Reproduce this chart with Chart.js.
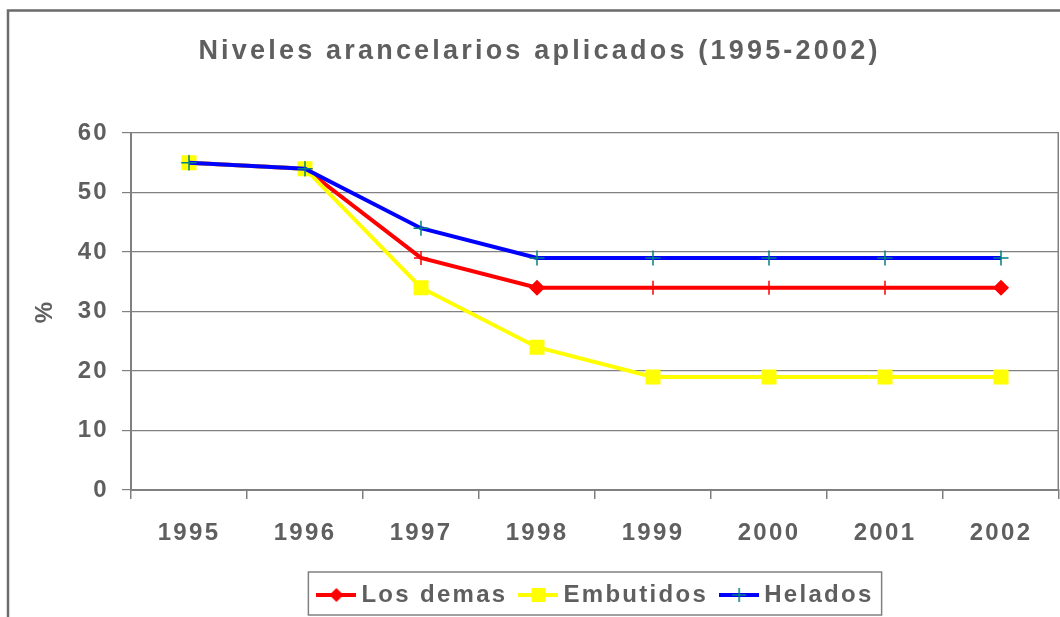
<!DOCTYPE html>
<html>
<head>
<meta charset="utf-8">
<script src="https://cdn.jsdelivr.net/npm/chart.js@4/dist/chart.umd.min.js"></script>
<style>
html,body{margin:0;padding:0;background:#fff;}
#wrap{width:1060px;height:617px;}
</style>
</head>
<body>
<div id="wrap"><canvas id="c" width="1060" height="617"></canvas></div>
<script>
const categories = ['1995','1996','1997','1998','1999','2000','2001','2002'];
const losDemas   = [55, 54, 39, 34, 34, 34, 34, 34];
const embutidos  = [55, 54, 34, 24, 19, 19, 19, 19];
const helados    = [55, 54, 44, 39, 39, 39, 39, 39];
const yTicks     = [0, 10, 20, 30, 40, 50, 60];
const seriesNames = ['Los demas', 'Embutidos', 'Helados'];
const chartTitle = 'Niveles arancelarios aplicados (1995-2002)';

const TEXT = '#5f5f5f';
const AXIS = '#808080';
const FONT = "'Liberation Sans', Arial, sans-serif";
const SPACING = '2.3px';

function legendImg(kind){
  const cv = document.createElement('canvas');
  cv.width = 40; cv.height = 18;
  const c = cv.getContext('2d');
  const my = 9, mx = 20;
  c.lineWidth = 4;
  c.strokeStyle = kind === 0 ? '#ff0000' : kind === 1 ? '#ffff00' : '#0000ff';
  c.beginPath(); c.moveTo(0,my); c.lineTo(40,my); c.stroke();
  if (kind === 0){
    c.fillStyle = '#ff0000';
    c.beginPath(); c.moveTo(mx-7,my); c.lineTo(mx,my-7); c.lineTo(mx+7,my); c.lineTo(mx,my+7); c.closePath(); c.fill();
  } else if (kind === 1){
    c.fillStyle = '#ffff00';
    c.fillRect(mx-7, my-7, 14, 14);
  } else {
    c.strokeStyle = '#008080'; c.lineWidth = 1.5;
    c.beginPath(); c.moveTo(mx-7,my); c.lineTo(mx+7,my); c.moveTo(mx,my-7); c.lineTo(mx,my+7); c.stroke();
  }
  return cv;
}
const legendImgs = [legendImg(0), legendImg(1), legendImg(2)];

const decor = {
  id: 'decor',
  beforeLayout(chart){ chart.ctx.letterSpacing = SPACING; },
  afterLayout(chart){
    chart.legend.left += 69;
    chart.legend.right += 69;
    const tb = chart.titleBlock;
    if (tb && !tb._patched){
      const orig = tb.draw;
      tb.draw = function(){
        const ctx = this.ctx;
        ctx.save();
        ctx.letterSpacing = '3.2px';
        ctx.translate(10, 0);
        orig.call(this);
        ctx.restore();
      };
      tb._patched = true;
    }
  },
  beforeDraw(chart){
    const ctx = chart.ctx;
    ctx.letterSpacing = SPACING;
    ctx.save();
    ctx.strokeStyle = '#6b6b6b';
    ctx.lineWidth = 2.5;
    ctx.strokeRect(8, 10.5, 1100, 700);
    ctx.restore();
  },
  beforeDatasetsDraw(chart){
    const {ctx, chartArea} = chart;
    ctx.save();
    ctx.strokeStyle = AXIS;
    ctx.lineWidth = 1.5;
    ctx.beginPath();
    ctx.moveTo(chartArea.right - 0.75, chartArea.top);
    ctx.lineTo(chartArea.right - 0.75, chartArea.bottom);
    ctx.stroke();
    ctx.restore();
  },
  afterDraw(chart){
    const lg = chart.legend;
    const hb = lg.legendHitBoxes;
    if (!hb || !hb.length) return;
    const first = hb[0], last = hb[hb.length-1];
    const ctx = chart.ctx;
    ctx.save();
    ctx.strokeStyle = AXIS;
    ctx.lineWidth = 1.5;
    const l = first.left - 15, r = last.left + last.width + 8;
    ctx.strokeRect(l, lg.top + 7, r - l, lg.bottom - lg.top - 9);
    ctx.restore();
  }
};

new Chart(document.getElementById('c'), {
  type: 'line',
  data: {
    labels: categories,
    datasets: [
      {
        label: seriesNames[0], data: losDemas, order: 2,
        borderColor: '#ff0000', backgroundColor: '#ff0000', borderWidth: 4,
        pointStyle: ['rectRot','rectRot','cross','rectRot','cross','cross','cross','rectRot'],
        pointRadius: 7, pointBorderColor: '#ff0000', pointBackgroundColor: '#ff0000', pointBorderWidth: 1.5,
        tension: 0
      },
      {
        label: seriesNames[1], data: embutidos, order: 1,
        borderColor: '#ffff00', backgroundColor: '#ffff00', borderWidth: 4,
        pointStyle: 'rect', pointRadius: 10.6, pointBorderWidth: 0,
        pointBackgroundColor: '#ffff00', tension: 0
      },
      {
        label: seriesNames[2], data: helados, order: 0,
        borderColor: '#0000ff', backgroundColor: '#0000ff', borderWidth: 4,
        pointStyle: 'cross', pointRadius: 7.5, pointBorderColor: '#008080', pointBorderWidth: 1.5,
        tension: 0
      }
    ]
  },
  options: {
    responsive: false,
    animation: false,
    devicePixelRatio: 1,
    layout: { autoPadding: false, padding: { left: 0, right: 1, top: 0, bottom: 0 } },
    plugins: {
      tooltip: { enabled: false },
      title: {
        display: true, text: chartTitle, color: TEXT,
        font: { family: FONT, size: 27, weight: 'bold' },
        padding: { top: 35, bottom: 65.6 }
      },
      legend: {
        display: true, position: 'bottom',
        labels: {
          color: TEXT,
          font: { family: FONT, size: 24, weight: 'bold' },
          usePointStyle: true, pointStyleWidth: 26, boxHeight: 18,
          padding: 18,
          sort: (a, b) => a.datasetIndex - b.datasetIndex,
          generateLabels: (chart) => Chart.defaults.plugins.legend.labels.generateLabels(chart)
            .map(l => Object.assign(l, { pointStyle: legendImgs[l.datasetIndex] }))
        }
      }
    },
    scales: {
      x: {
        type: 'category', offset: true,
        grid: { offset: true, drawOnChartArea: false, drawTicks: true, tickLength: 9, color: AXIS, lineWidth: 1.5 },
        border: { color: AXIS, width: 2 },
        ticks: { color: TEXT, font: { family: FONT, size: 24, weight: 'bold' }, padding: 20, maxRotation: 0, autoSkip: false },
        afterFit: (s) => { s.height = 75; s.paddingLeft = 0; s.paddingRight = 0; }
      },
      y: {
        min: 0, max: 60,
        afterBuildTicks: (s) => { s.ticks = yTicks.map(v => ({ value: v })); },
        grid: { color: AXIS, lineWidth: 1.2, tickLength: 9, drawTicks: true },
        border: { color: AXIS, width: 2 },
        ticks: { color: TEXT, font: { family: FONT, size: 24, weight: 'bold' }, padding: 13 },
        title: {
          display: true, text: '%', color: TEXT,
          font: { family: FONT, size: 24, weight: 'bold' },
          padding: { top: 31, bottom: 0 }
        },
        afterFit: (s) => { s.width = 131; }
      }
    }
  },
  plugins: [decor]
});
</script>
</body>
</html>
